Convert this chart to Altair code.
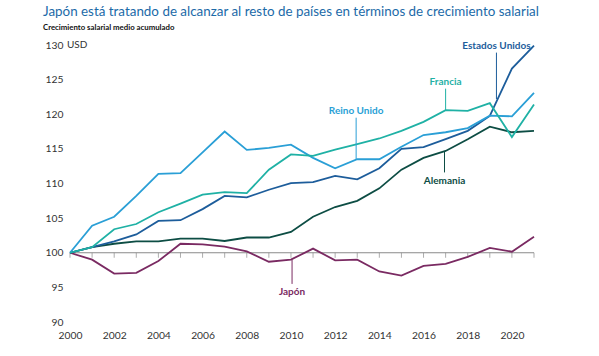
import altair as alt
import pandas as pd

years = [2000, 2001, 2002, 2003, 2004, 2005, 2006, 2007, 2008, 2009, 2010,
         2011, 2012, 2013, 2014, 2015, 2016, 2017, 2018, 2019, 2020, 2021]

japon = [100, 99.0, 97.0, 97.1, 98.8, 101.3, 101.2, 100.9, 100.2, 98.7, 99.0,
         100.6, 98.9, 99.0, 97.3, 96.7, 98.1, 98.4, 99.4, 100.7, 100.15, 102.3]
alemania = [100, 100.8, 101.3, 101.65, 101.65, 102.05, 102.05, 101.7, 102.2, 102.2, 103.0,
            105.2, 106.6, 107.5, 109.3, 112.0, 113.7, 114.7, 116.4, 118.2, 117.4, 117.6]
eeuu = [100, 100.8, 101.65, 102.65, 104.6, 104.7, 106.3, 108.2, 108.0, 109.1, 110.05,
        110.2, 111.1, 110.6, 112.2, 115.0, 115.25, 116.4, 117.6, 119.75, 126.6, 129.9]
reino_unido = [100, 103.9, 105.2, 108.2, 111.4, 111.5, 114.5, 117.5, 114.85, 115.15, 115.6,
               113.7, 112.2, 113.5, 113.5, 115.3, 117.0, 117.4, 118.0, 119.8, 119.7, 123.1]
francia = [100, 100.8, 103.4, 104.15, 105.85, 107.1, 108.4, 108.75, 108.6, 112.0, 114.2,
           114.0, 114.9, 115.7, 116.5, 117.6, 118.9, 120.6, 120.5, 121.6, 116.7, 121.4]

series_names = ["Japón", "Alemania", "Estados Unidos", "Reino Unido", "Francia"]
series_values = [japon, alemania, eeuu, reino_unido, francia]
series_colors = ["#7a2a62", "#0d4d44", "#1d5d9b", "#2a9fd6", "#1fb1a5"]

# annotation positions (year, value) for labels and leader lines
label_x = [2010.05, 2016.95, 2019.3, 2012.95, 2017.0]
label_y = [94.4, 110.4, 129.9, 120.5, 124.6]
leader_top = [99.0, 114.6, 128.9, 119.5, 123.7]
leader_bottom = [95.5, 111.6, 122.2, 113.5, 120.6]

y_ticks = [90, 95, 100, 105, 110, 115, 120, 125, 130]
x_ticks = [2000, 2002, 2004, 2006, 2008, 2010, 2012, 2014, 2016, 2018, 2020]

title_text = "Japón está tratando de alcanzar al resto de países en términos de crecimiento salarial"
subtitle_text = "Crecimiento salarial medio acumulado"

rows = []
for name, vals, col in zip(series_names, series_values, series_colors):
    for yr, v in zip(years, vals):
        rows.append({"serie": name, "year": yr, "value": v, "color": col})
df = pd.DataFrame(rows)

ann = pd.DataFrame({
    "serie": series_names, "color": series_colors,
    "x": label_x, "y": label_y, "top": leader_top, "bottom": leader_bottom,
})

xs = alt.Scale(domain=[2000, 2021], nice=False, zero=False)
ys = alt.Scale(domain=[90, 130], nice=False, zero=False)

x_axis = alt.Axis(values=x_ticks, format="d", title=None, domain=False,
                  ticks=False, grid=False, labelPadding=8, labelOverlap=False,
                  labelFlush=False,
                  labelFontSize=10.3, labelColor="#333333", labelFont="Lato")
y_axis = alt.Axis(values=y_ticks, format="d", title=None, domain=False, ticks=False,
                  grid=False, labelPadding=7, labelFontSize=10.3, labelOverlap=False,
                  labelFlush=False,
                  labelColor="#333333", labelFont="Lato")


def X(field):
    return alt.X(field, scale=xs, axis=x_axis)


def Y(field):
    return alt.Y(field, scale=ys, axis=y_axis)


base_years = pd.DataFrame({"year": years, "base": [100] * len(years)})

baseline = alt.Chart(base_years).mark_rule(color="#8a8a8a", strokeWidth=1).encode(
    x=X("min(year):Q"), x2="max(year):Q", y=Y("min(base):Q"),
)

tick_marks = alt.Chart(base_years).mark_tick(
    orient="vertical", size=5, thickness=1, color="#8a8a8a", yOffset=2.5
).encode(x=X("year:Q"), y=Y("base:Q"))

lines = alt.Chart(df).mark_line(strokeWidth=1.8).encode(
    x=X("year:Q"),
    y=Y("value:Q"),
    color=alt.Color("color:N", scale=None),
    detail="serie:N",
)

leaders = alt.Chart(ann).mark_rule(strokeWidth=1).encode(
    x=X("x:Q"), y=Y("top:Q"), y2="bottom:Q",
    color=alt.Color("color:N", scale=None),
)

labels = alt.Chart(ann).mark_text(
    font="Lato", fontSize=10, fontWeight="bold", align="center", baseline="middle"
).encode(
    x=X("x:Q"), y=Y("y:Q"),
    text="serie:N", color=alt.Color("color:N", scale=None),
)

usd = alt.Chart(pd.DataFrame({"x": [2000], "y": [130], "t": ["USD"]})).mark_text(
    font="Lato", fontSize=10, align="left", baseline="middle", dx=-3, color="#333333"
).encode(x=X("x:Q"), y=Y("y:Q"), text="t:N")

heading = alt.Chart(pd.DataFrame({"t": [title_text]})).mark_text(
    font="Lato", fontSize=13.4, align="left", baseline="middle", color="#1b6aa8"
).encode(x=alt.value(-27), y=alt.value(-33), text="t:N")

subtitle = alt.Chart(pd.DataFrame({"t": [subtitle_text]})).mark_text(
    font="Lato", fontSize=7.8, fontWeight="bold", align="left", baseline="middle",
    color="#111111"
).encode(x=alt.value(-27), y=alt.value(-17), text="t:N")

chart = alt.layer(baseline, tick_marks, lines, leaders, labels, usd,
                  heading, subtitle).properties(
    width=464, height=277,
    padding={"left": 70, "top": 45, "right": 65, "bottom": 34},
    autosize=alt.AutoSizeParams(type="none"),
).configure_view(stroke=None)

chart.save("out.html", embed_options={"renderer": "svg", "actions": False})
